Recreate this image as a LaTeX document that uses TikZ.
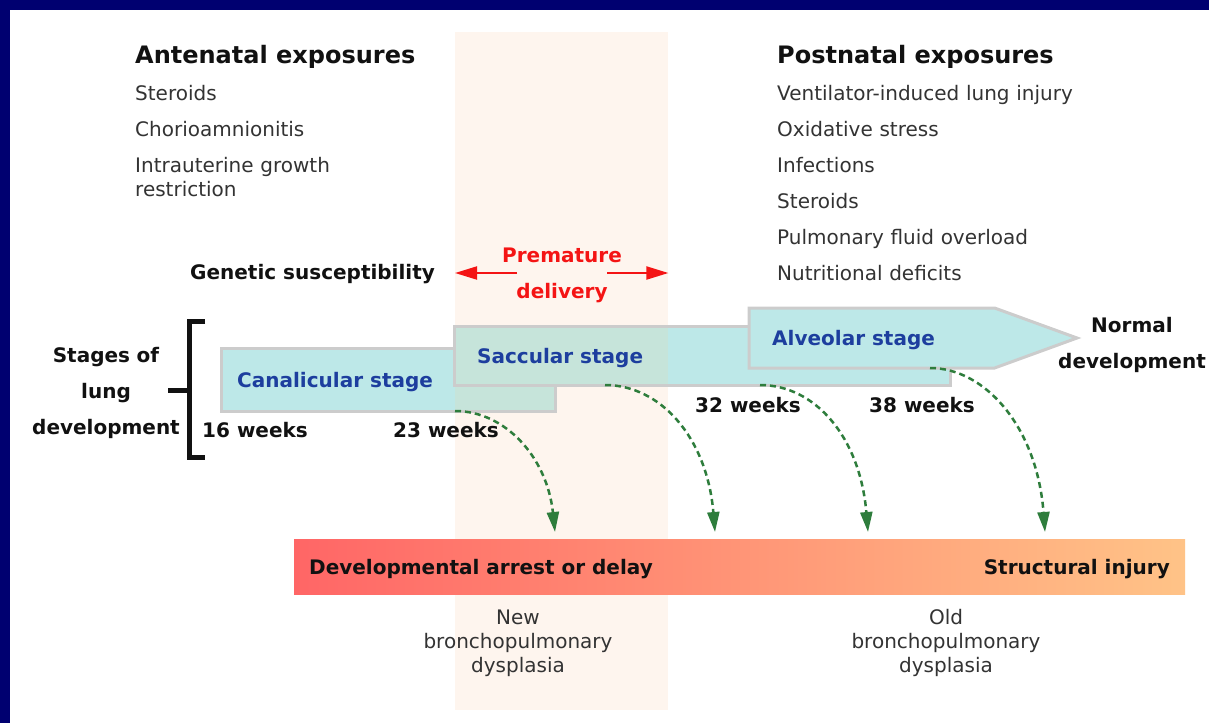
\documentclass[tikz,border=0pt]{standalone}
\usepackage{fontspec}
\setmainfont{DejaVu Sans}
\usetikzlibrary{calc,arrows.meta,positioning,shapes.arrows}
\definecolor{cnavy}{HTML}{000070}
\definecolor{cband}{HTML}{FEF5EE}
\definecolor{ccyan}{HTML}{BDE8E8}
\definecolor{cmix}{HTML}{C6E4DA}
\definecolor{cedge}{HTML}{CCCCCC}
\definecolor{cstage}{HTML}{1D3E9E}
\definecolor{cgreen}{HTML}{2E7D3C}
\definecolor{cred}{HTML}{F41414}
\definecolor{cink}{HTML}{111111}
\definecolor{cink2}{HTML}{333333}
\definecolor{carrest}{HTML}{FF6666}
\definecolor{cinjury}{HTML}{FFC387}

\begin{document}
\begin{tikzpicture}[x=1pt, y=-1pt,
  head/.style={font={\fontsize{24}{29}\selectfont\bfseries}, text=cink, inner sep=0pt, anchor=base west},
  item/.style={font={\fontsize{20}{24}\selectfont}, text=cink2, inner sep=0pt, anchor=base west,
               align=left, text width=#1},
  item/.default=320pt,
  lbl/.style={font={\fontsize{20}{36}\selectfont\bfseries}, text=cink, inner sep=0pt, anchor=base west},
  ctr/.style={anchor=base, align=center, text width=#1},
  stage/.style={draw=cedge, line width=3pt, fill=ccyan, inner sep=0pt, outer sep=0pt,
                path picture={\fill[cmix] (band.north west) rectangle (band.south east);}},
  stagearr/.style={cgreen, line width=2.5pt, dash pattern=on 6pt off 4pt,
                   -{Triangle[length=20pt,width=12pt]}},
  redarr/.style={cred, line width=2pt, -{Triangle[length=22pt,width=13pt]}}]
\useasboundingbox (0,0) rectangle (1209,723);
%% frame
\fill[cnavy] (0,0) rectangle (1209,723);
\fill[white] (10,10) rectangle (1209,723);
%% premature delivery window
\node[fill=cband, inner sep=0pt, minimum width=213pt, minimum height=678pt, anchor=north west] (band) at (455,32) {};
%% exposures
\node[head] (antehead) at (135,63) {Antenatal exposures};
\foreach \t [count=\i] in {Steroids, Chorioamnionitis, {Intrauterine growth\\restriction}}
  \node[item] (ante\i) at (135,{64+36*\i}) {\t};
\node[head] (posthead) at (777,63) {Postnatal exposures};
\foreach \t [count=\i] in {Ventilator-induced lung injury, Oxidative stress, Infections, Steroids,
                          Pulmonary fluid overload, Nutritional deficits}
  \node[item] (post\i) at (777,{64+36*\i}) {\t};
\node[lbl] (genetic) at (190,279) {Genetic susceptibility};
\node[lbl, ctr=160pt, text=cred] (prem) at (562,262) {Premature\\delivery};
\coordinate (pl) at ($(prem.base)+(-45,11)$);
\coordinate (pr) at ($(prem.base)+(45,11)$);
\draw[redarr] (pl) -- (pl -| band.west);
\draw[redarr] (pr) -- (pr -| band.east);
%% stages
\node[stage, minimum width=334pt, minimum height=63pt, anchor=north west] (canal) at (221,348) {};
\node[stage, minimum width=496pt, minimum height=59pt, anchor=north west] (sacc) at (454,326) {};
\node[stage, single arrow, single arrow head extend=0pt, single arrow tip angle=40,
      minimum height=328pt, minimum width=60pt, anchor=tail] (alv) at (749,338) {};
\node[lbl, text=cstage] (canallbl) at (237,387) {Canalicular stage};
\node[lbl, text=cstage] (sacclbl) at (477,363) {Saccular stage};
\node[lbl, text=cstage] (alvlbl) at (772,345) {Alveolar stage};
\node[lbl] (w16) at (202,437) {16 weeks};
\node[lbl] (w23) at (393,437) {23 weeks};
\node[lbl] (w32) at (695,412) {32 weeks};
\node[lbl] (w38) at (869,412) {38 weeks};
\node[lbl, ctr=160pt] (normal) at (1132,332) {Normal\\development};
\node[lbl, ctr=160pt] (stages) at (106,362) {Stages of\\lung\\development};
\draw[cink, line width=5pt] (205,321) -- (189,321) -- (189,457) -- (205,457);
\draw[cink, line width=5pt] (168,390) -- (189,390);
%% outcome bar
\node[left color=carrest, right color=cinjury, minimum width=891pt, minimum height=55pt,
      inner sep=0pt, anchor=north west] (injury) at (294,539) {};
\node[lbl] (arrest) at (309,574) {Developmental arrest or delay};
\node[lbl, anchor=base east] (struct) at (1170,574) {Structural injury};
\node[item, ctr=220pt] (newbpd) at (518,624) {New\\bronchopulmonary\\dysplasia};
\node[item, ctr=220pt] (oldbpd) at (946,624) {Old\\bronchopulmonary\\dysplasia};
%% arrows to the bar
\draw[stagearr] (canal.south -| band.west) .. controls +(50,0) and +(-8,-75) .. ($(injury.north west)+(261,-7)$);
\draw[stagearr] ($(sacc.south west)+(151,0)$) .. controls +(55,0) and +(-8,-95) .. ($(injury.north west)+(421,-7)$);
\draw[stagearr] ($(sacc.south west)+(306,0)$) .. controls +(55,0) and +(-8,-95) .. ($(injury.north west)+(574,-7)$);
\draw[stagearr] ($(alv.tail)+(181,30)$) .. controls +(55,0) and +(-8,-105) .. ($(injury.north west)+(751,-7)$);
\end{tikzpicture}
\end{document}
